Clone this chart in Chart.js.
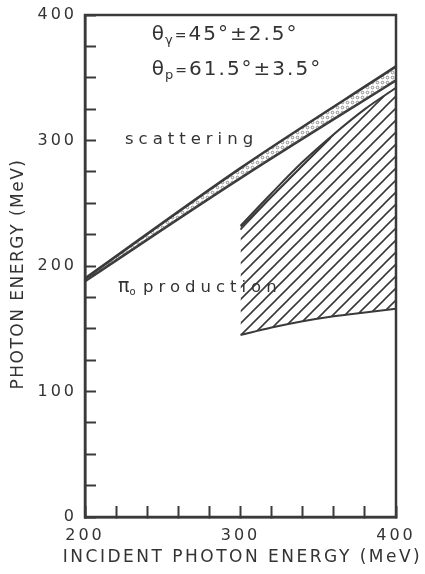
<!DOCTYPE html>
<html>
<head>
<meta charset="utf-8">
<title>Photon energy vs incident photon energy</title>
<script src="https://cdn.jsdelivr.net/npm/chart.js@4.4.1/dist/chart.umd.min.js"></script>
<style>
  html, body { margin: 0; padding: 0; background: #fff; }
  canvas { display: block; }
</style>
</head>
<body>
<canvas id="energyChart" width="425" height="574"></canvas>
<script>
// scattering band edges (MeV)
const bandX = [200, 300, 400];
const bandUpper = [190, 278, 359];
const bandLower = [188, 270, 348];

// pi0 production region
const pionX = [300, 320, 340, 360, 380, 400];
const pionUpper = [232, 258, 283, 305, 325, 342];
const pionLower = [145, 151, 156, 160, 163, 166];
const pionInnerX = [300, 320, 340, 358];
const pionInner = [229, 255, 280, 302];

// ticks that carry a number
const xLabels = [200, 300, 400];
const yLabels = [0, 100, 200, 300, 400];

const INK = '#3a3a3a';
const FONT = '"DejaVu Sans", sans-serif';

Chart.defaults.font.family = FONT;
Chart.defaults.color = '#333';

function points(xs, ys) {
    return xs.map((x, i) => ({ x: x, y: ys[i] }));
}

// diagonal hatching
function hatchPattern() {
    const c = document.createElement('canvas');
    c.width = 12;
    c.height = 12;
    const g = c.getContext('2d');
    g.strokeStyle = INK;
    g.lineWidth = 1.6;
    g.beginPath();
    g.moveTo(0, 12); g.lineTo(12, 0);
    g.moveTo(-3, 3); g.lineTo(3, -3);
    g.moveTo(9, 15); g.lineTo(15, 9);
    g.stroke();
    return g.createPattern(c, 'repeat');
}

// little rings inside the scattering band
function ringPattern() {
    const c = document.createElement('canvas');
    c.width = 5;
    c.height = 5;
    const g = c.getContext('2d');
    g.strokeStyle = '#666';
    g.lineWidth = 0.7;
    g.beginPath();
    g.arc(2.5, 2.5, 1.3, 0, Math.PI * 2);
    g.stroke();
    return g.createPattern(c, 'repeat');
}

// draw a row of text pieces one after the other
function textRun(ctx, x0, y0, parts) {
    let cx = x0;
    parts.forEach(p => {
        ctx.font = `${p.size}px ${FONT}`;
        ctx.letterSpacing = (p.ls || 0) + 'px';
        ctx.fillText(p.t, cx, y0 + (p.dy || 0));
        cx += ctx.measureText(p.t).width;
    });
}

const frameAndText = {
    id: 'frameAndText',
    beforeDraw(chart) {
        chart.ctx.letterSpacing = '3px';
    },
    afterDraw(chart) {
        const { ctx, chartArea: a, scales: { x, y } } = chart;
        ctx.save();

        // box round the plot
        ctx.strokeStyle = INK;
        ctx.lineWidth = 2.5;
        ctx.strokeRect(a.left, a.top, a.right - a.left, a.bottom - a.top);

        ctx.fillStyle = '#333';
        ctx.textAlign = 'left';
        ctx.textBaseline = 'alphabetic';

        // detector angles
        textRun(ctx, x.getPixelForValue(243), y.getPixelForValue(380), [
            { t: 'θ', size: 20, ls: 1 },
            { t: 'γ', size: 13, dy: 4, ls: 2 },
            { t: '=', size: 14, ls: 2 },
            { t: '45°±2.5°', size: 20, ls: 2 }
        ]);
        textRun(ctx, x.getPixelForValue(243), y.getPixelForValue(352), [
            { t: 'θ', size: 20, ls: 1 },
            { t: 'p', size: 13, dy: 4, ls: 2 },
            { t: '=', size: 14, ls: 2 },
            { t: '61.5°±3.5°', size: 20, ls: 2 }
        ]);

        // region names
        textRun(ctx, x.getPixelForValue(225.7), y.getPixelForValue(297), [
            { t: 'scattering', size: 16.5, ls: 5 }
        ]);
        textRun(ctx, x.getPixelForValue(221.2), y.getPixelForValue(179.3), [
            { t: 'π', size: 19, ls: 0 },
            { t: 'o', size: 10, dy: 3, ls: 5 }
        ]);
        textRun(ctx, x.getPixelForValue(237.3), y.getPixelForValue(179.3), [
            { t: 'production', size: 16.5, ls: 5 }
        ]);

        // axis titles
        ctx.textAlign = 'center';
        ctx.textBaseline = 'middle';
        ctx.font = `17px ${FONT}`;
        ctx.letterSpacing = '2.5px';
        ctx.fillText('INCIDENT PHOTON ENERGY (MeV)', (a.left + a.right) / 2 + 2, 558);

        ctx.translate(19, 274);
        ctx.rotate(-Math.PI / 2);
        ctx.letterSpacing = '1.5px';
        ctx.fillText('PHOTON ENERGY (MeV)', 0, 0);
        ctx.restore();
    }
};

new Chart(document.getElementById('energyChart'), {
    type: 'line',
    data: {
        datasets: [
            {
                data: points(bandX, bandUpper),
                borderColor: INK,
                borderWidth: 2.6,
                fill: '+1',
                backgroundColor: ringPattern(),
                cubicInterpolationMode: 'monotone'
            },
            {
                data: points(bandX, bandLower),
                borderColor: INK,
                borderWidth: 2.6,
                fill: false,
                cubicInterpolationMode: 'monotone'
            },
            {
                data: points(pionX, pionUpper),
                borderColor: INK,
                borderWidth: 2,
                fill: '+1',
                backgroundColor: hatchPattern(),
                cubicInterpolationMode: 'monotone'
            },
            {
                data: points(pionX, pionLower),
                borderColor: INK,
                borderWidth: 2,
                fill: false,
                cubicInterpolationMode: 'monotone'
            },
            {
                data: points(pionInnerX, pionInner),
                borderColor: INK,
                borderWidth: 1.6,
                fill: false,
                cubicInterpolationMode: 'monotone'
            }
        ]
    },
    options: {
        responsive: false,
        animation: false,
        layout: { padding: { top: 15, right: 29, left: 0, bottom: 0 } },
        elements: { point: { radius: 0 } },
        plugins: {
            legend: { display: false },
            tooltip: { enabled: false }
        },
        scales: {
            x: {
                type: 'linear',
                min: 200,
                max: 400,
                afterFit(s) {
                    s.height = 57;
                    s.paddingLeft = 0;
                    s.paddingRight = 0;
                },
                ticks: {
                    stepSize: 20,
                    autoSkip: false,
                    maxRotation: 0,
                    padding: 20,
                    font: { size: 16 },
                    callback: v => xLabels.includes(v) ? v : ''
                },
                grid: { drawOnChartArea: false, tickLength: -11, tickWidth: 2, tickColor: INK },
                border: { color: INK, width: 2.5 }
            },
            y: {
                type: 'linear',
                min: 0,
                max: 400,
                afterFit(s) {
                    s.width = 85;
                    s.paddingTop = 0;
                    s.paddingBottom = 0;
                },
                ticks: {
                    stepSize: 25,
                    autoSkip: false,
                    padding: 19,
                    font: { size: 16 },
                    callback: v => yLabels.includes(v) ? v : ''
                },
                grid: { drawOnChartArea: false, tickLength: -11, tickWidth: 2, tickColor: INK },
                border: { color: INK, width: 2.5 }
            }
        }
    },
    plugins: [frameAndText]
});
</script>
</body>
</html>
